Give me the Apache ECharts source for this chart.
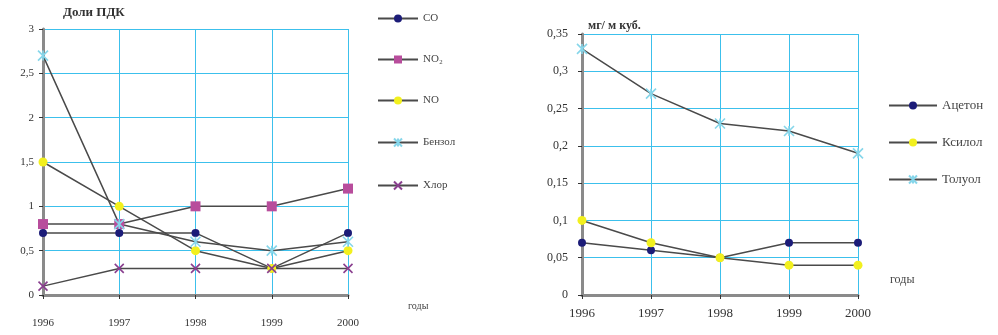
<!DOCTYPE html>
<html><head><meta charset="utf-8">
<script src="https://cdn.jsdelivr.net/npm/echarts@6/dist/echarts.min.js"></script>
<style>html,body{margin:0;padding:0;background:#fff}#c{width:998px;height:335px}</style>
</head><body><div id="c"></div>
<script>
const years = ['1996','1997','1998','1999','2000'];
const leftNames = ['CO','NO₂','NO','Бензол','Хлор'];
const coVals = [0.7, 0.7, 0.7, 0.3, 0.7];
const no2Vals = [0.8, 0.8, 1.0, 1.0, 1.2];
const noVals = [1.5, 1.0, 0.5, 0.3, 0.5];
const benzolVals = [2.7, 0.8, 0.6, 0.5, 0.6];
const chlorVals = [0.1, 0.3, 0.3, 0.3, 0.3];
const rightNames = ['Ацетон','Ксилол','Толуол'];
const acetonVals = [0.07, 0.06, 0.05, 0.07, 0.07];
const xylolVals = [0.10, 0.07, 0.05, 0.04, 0.04];
const toluolVals = [0.33, 0.27, 0.23, 0.22, 0.19];

const FONT = 'Liberation Serif';
const GRIDC = '#3cc0ec';
const LINEC = '#4a4a4a';
const comma = v => String(v).replace('.', ',');

function xAxis(gi, labelMargin, fs) {
  return {
    type: 'category', gridIndex: gi, data: years, boundaryGap: false,
    axisLine: {lineStyle: {color: '#8a8a8a', width: 3}},
    axisTick: {show: true, alignWithLabel: true, length: 4, lineStyle: {color: '#333'}},
    axisLabel: {color: '#333', fontFamily: FONT, fontSize: fs, margin: labelMargin},
    splitLine: {show: true, lineStyle: {color: GRIDC, width: 1}}
  };
}
function yAxis(gi, max, interval, labelMargin, fs) {
  return {
    type: 'value', gridIndex: gi, min: 0, max: max, interval: interval,
    axisLine: {show: true, lineStyle: {color: '#8a8a8a', width: 3}},
    axisTick: {show: true, length: 4, lineStyle: {color: '#333'}},
    axisLabel: {color: '#333', fontFamily: FONT, fontSize: fs, margin: labelMargin, formatter: comma},
    splitLine: {show: true, lineStyle: {color: GRIDC, width: 1}}
  };
}
function ser(name, data, gi, symbol, size, color, border) {
  const s = {
    name: name, type: 'line', xAxisIndex: gi, yAxisIndex: gi, data: data,
    symbol: symbol, symbolSize: size, showSymbol: true,
    lineStyle: {color: LINEC, width: 1.5},
    itemStyle: {color: color},
    emphasis: {disabled: true}, animation: false
  };
  if (border) { s.itemStyle = {color: 'none', borderColor: color, borderWidth: 1.6}; }
  return s;
}
const STAR = 'path://M0,0L10,10M10,0L0,10M5,0L5,10';
const XMARK = 'path://M0,0L10,10M10,0L0,10';

const chart = echarts.init(document.getElementById('c'));
chart.setOption({
  backgroundColor: '#fff',
  animation: false,
  grid: [
    {left: 43, right: 650, top: 29, bottom: 40},
    {left: 582, right: 140, top: 34, bottom: 40}
  ],
  xAxis: [xAxis(0, 23, 11), xAxis(1, 12, 13)],
  yAxis: [yAxis(0, 3, 0.5, 9, 11), yAxis(1, 0.35, 0.05, 14, 12)],
  legend: [
    {orient: 'vertical', left: 372, top: 8, itemWidth: 40, itemHeight: 10, itemGap: 30,
     data: leftNames, textStyle: {fontFamily: FONT, fontSize: 11, color: '#444'}},
    {orient: 'vertical', left: 883, top: 94, itemWidth: 48, itemHeight: 10, itemGap: 24,
     data: rightNames, textStyle: {fontFamily: FONT, fontSize: 13, color: '#444'}}
  ],
  graphic: [
    {type: 'text', left: 63, top: 6, style: {text: 'Доли ПДК', font: 'bold 13px "Liberation Serif"', fill: '#333'}},
    {type: 'text', left: 588, top: 20, style: {text: 'мг/ м куб.', font: 'bold 12px "Liberation Serif"', fill: '#333'}},
    {type: 'text', left: 408, top: 301, style: {text: 'годы', font: '10px "Liberation Serif"', fill: '#444'}},
    {type: 'text', left: 890, top: 274, style: {text: 'годы', font: '12px "Liberation Serif"', fill: '#444'}}
  ],
  series: [
    ser(leftNames[0], coVals, 0, 'circle', 8, '#1c1c78'),
    ser(leftNames[1], no2Vals, 0, 'rect', 10, '#b84d9c'),
    ser(leftNames[2], noVals, 0, 'circle', 9, '#f2f01e'),
    ser(leftNames[3], benzolVals, 0, STAR, 10, '#86d6ea', true),
    ser(leftNames[4], chlorVals, 0, XMARK, 9, '#8a3f8f', true),
    ser(rightNames[0], acetonVals, 1, 'circle', 8, '#1c1c78'),
    ser(rightNames[1], xylolVals, 1, 'circle', 9, '#f2f01e'),
    ser(rightNames[2], toluolVals, 1, STAR, 10, '#86d6ea', true)
  ]
});
</script></body></html>
